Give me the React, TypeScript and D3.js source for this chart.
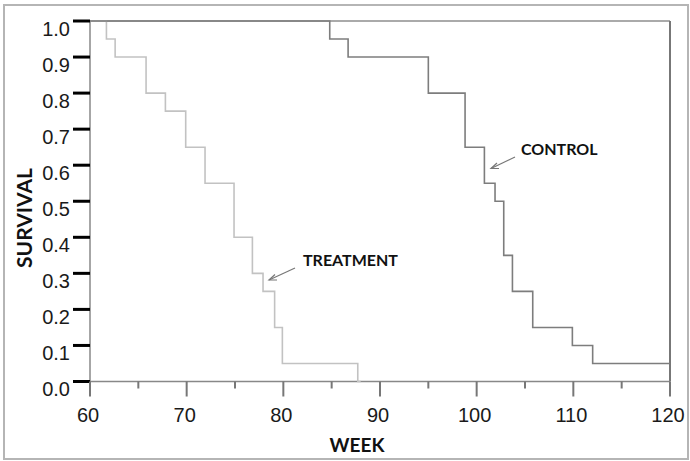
import React from 'react'
import * as d3 from 'd3'

// Kaplan-Meier style step data: [week, survival]
const treatment: [number, number][] = [
  [60, 1.0], [61.7, 0.95], [62.6, 0.9], [65.8, 0.8], [67.8, 0.75], [69.9, 0.65],
  [71.9, 0.55], [74.9, 0.4], [76.8, 0.3], [77.9, 0.25], [79.1, 0.15], [79.9, 0.05],
  [87.7, 0.0], [88, 0.0],
]
const control: [number, number][] = [
  [60, 1.0], [84.8, 0.95], [86.7, 0.9], [95, 0.8], [98.8, 0.65], [100.8, 0.55],
  [101.9, 0.5], [102.8, 0.35], [103.7, 0.25], [105.8, 0.15], [109.9, 0.1],
  [112, 0.05], [120, 0.05],
]
const xMajor = [60, 70, 80, 90, 100, 110, 120]
const xMinor = [65, 75, 85, 95, 105, 115]
const yTicks = [0, 0.1, 0.2, 0.3, 0.4, 0.5, 0.6, 0.7, 0.8, 0.9, 1.0]

const W = 690, H = 461

export default function App() {
  const x = d3.scaleLinear().domain([60, 120]).range([90, 670])
  const y = d3.scaleLinear().domain([0, 1]).range([381.5, 21])
  const line = d3.line<[number, number]>()
    .x(d => x(d[0])).y(d => y(d[1]))
    .curve(d3.curveStepAfter)

  const tickFont = '"Liberation Sans", Arial, sans-serif'
  const labelFont = 'Lato, "Open Sans", sans-serif'

  return (
    <div style={{ position: 'absolute', left: 0, top: 0 }}>
      <svg width={W} height={H}>
        <rect x={0} y={0} width={W} height={H} fill="#fff" />
        <rect x={4} y={5} width={684} height={454} fill="none" stroke="#b5b5b5" strokeWidth={2} />

        {/* frame */}
        <line x1={x(60)} x2={x(120)} y1={y(1)} y2={y(1)} stroke="#aaa" strokeWidth={2} />
        <line x1={x(120)} x2={x(120)} y1={y(1)} y2={y(0)} stroke="#777" strokeWidth={2} />
        <line x1={x(60)} x2={x(60)} y1={y(1)} y2={y(0)} stroke="#888" strokeWidth={1.5} />
        <line x1={x(60)} x2={x(120)} y1={y(0)} y2={y(0)} stroke="#888" strokeWidth={1.5} />

        {/* curves */}
        <path d={line(treatment) || ''} fill="none" stroke="#c2c2c2" strokeWidth={1.6} />
        <path d={line(control) || ''} fill="none" stroke="#7d7d7d" strokeWidth={1.6} />

        {/* y axis */}
        {yTicks.map(t => (
          <g key={t}>
            <line x1={73} x2={x(60)} y1={y(t)} y2={y(t)} stroke="#000" strokeWidth={3} />
            <text x={70} y={y(t) + 14.5} textAnchor="end" fontFamily={tickFont} fontSize={20} fill="#1a1a1a">
              {t.toFixed(1)}
            </text>
          </g>
        ))}

        {/* x axis */}
        {xMajor.map(t => (
          <g key={t}>
            <line x1={x(t)} x2={x(t)} y1={y(0)} y2={y(0) + 15} stroke="#777" strokeWidth={2} />
            <text x={x(t) - 2} y={421.5} textAnchor="middle" fontFamily={tickFont} fontSize={20} fill="#1a1a1a">
              {t}
            </text>
          </g>
        ))}
        {xMinor.map(t => (
          <line key={t} x1={x(t)} x2={x(t)} y1={y(0)} y2={y(0) + 7} stroke="#777" strokeWidth={2} />
        ))}

        <text x={357} y={452} textAnchor="middle" fontFamily={labelFont} fontWeight="bold" fontSize={19} fill="#111">
          WEEK
        </text>
        <text transform="translate(32,218) rotate(-90)" textAnchor="middle" fontFamily={labelFont}
          fontWeight="bold" fontSize={21} fill="#111">
          SURVIVAL
        </text>

        {/* annotations */}
        <text x={521} y={155} fontFamily={labelFont} fontWeight="bold" fontSize={16} fill="#111">CONTROL</text>
        <line x1={515} y1={157} x2={491} y2={168.5} stroke="#777" strokeWidth={1.2} />
        <path d="M497,163 L491,168.5 L499,168.5" fill="none" stroke="#777" strokeWidth={1.2} />

        <text x={303} y={266} fontFamily={labelFont} fontWeight="bold" fontSize={16} fill="#111">TREATMENT</text>
        <line x1={295} y1={268} x2={269} y2={280} stroke="#777" strokeWidth={1.2} />
        <path d="M275,274.5 L269,280 L277,280" fill="none" stroke="#777" strokeWidth={1.2} />
      </svg>
    </div>
  )
}
